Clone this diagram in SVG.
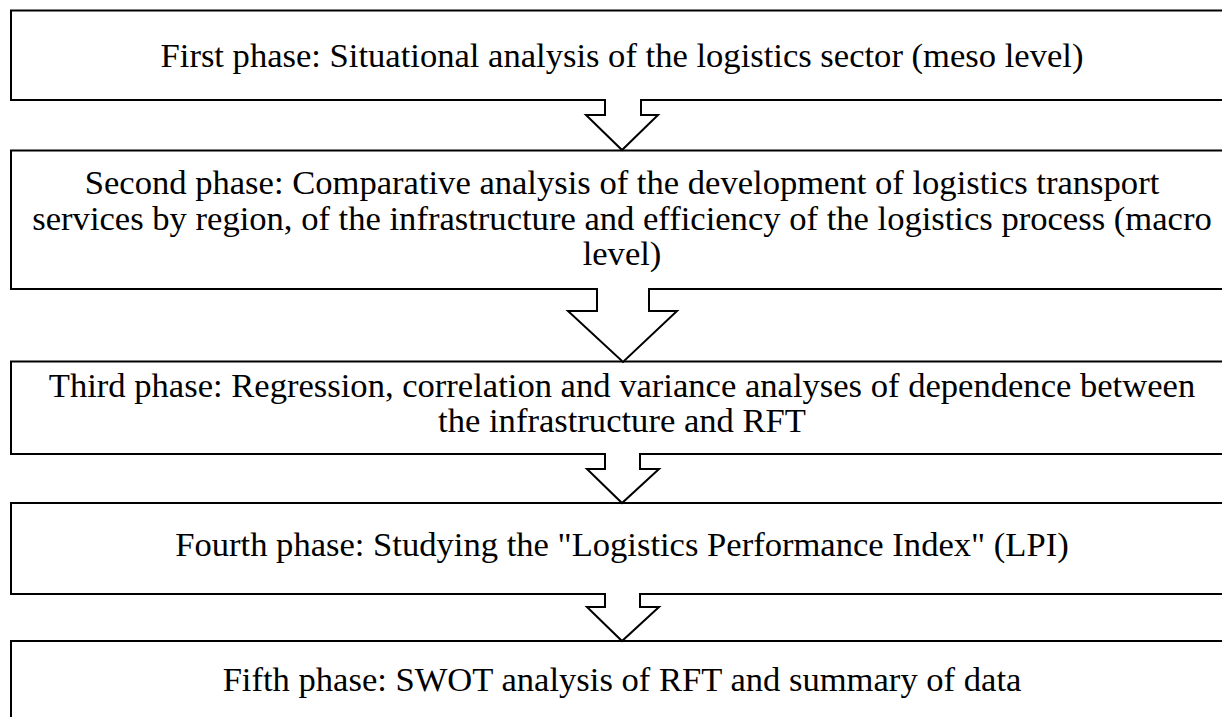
<svg xmlns="http://www.w3.org/2000/svg" width="1222" height="717" viewBox="0 0 1222 717">
<style>
.box{fill:#fff;stroke:#000;stroke-width:2}
.arr{fill:#fff;stroke:#000;stroke-width:2;stroke-linejoin:miter}
.t{font-family:"Liberation Serif","Times New Roman",serif;font-size:34.6px;fill:#000;text-anchor:middle}
</style>
<rect width="1222" height="717" fill="#fff"/>
<g id="phase1">
<rect class="box" x="11" y="10.5" width="1230" height="89.5"/>
<text class="t" x="622" y="67">First phase: Situational analysis of the logistics sector (meso level)</text>
</g>
<g id="phase2">
<rect class="box" x="11" y="150.5" width="1230" height="138.5"/>
<text class="t" x="622" y="194">Second phase: Comparative analysis of the development of logistics transport</text>
<text class="t" x="622" y="229.5">services by region, of the infrastructure and efficiency of the logistics process (macro</text>
<text class="t" x="622" y="265">level)</text>
</g>
<g id="phase3">
<rect class="box" x="11" y="361.5" width="1230" height="92.5"/>
<text class="t" x="622" y="397">Third phase: Regression, correlation and variance analyses of dependence between</text>
<text class="t" x="622" y="432">the infrastructure and RFT</text>
</g>
<g id="phase4">
<rect class="box" x="11" y="503" width="1230" height="91"/>
<text class="t" x="622" y="556">Fourth phase: Studying the "Logistics Performance Index" (LPI)</text>
</g>
<g id="phase5">
<rect class="box" x="11" y="641" width="1230" height="90"/>
<text class="t" x="622" y="691">Fifth phase: SWOT analysis of RFT and summary of data</text>
</g>
<g id="connectors">
<path class="arr" d="M605,99 V115 H586 L622,150 L658,115 H641 V99"/>
<path class="arr" d="M597,288 V311 H568 L623,362 L677,311 H649 V288"/>
<path class="arr" d="M605,453 V469 H587 L622,503 L659,469 H640 V453"/>
<path class="arr" d="M605,593 V607 H587 L622,641 L659,607 H640 V593"/>
</g>
</svg>
